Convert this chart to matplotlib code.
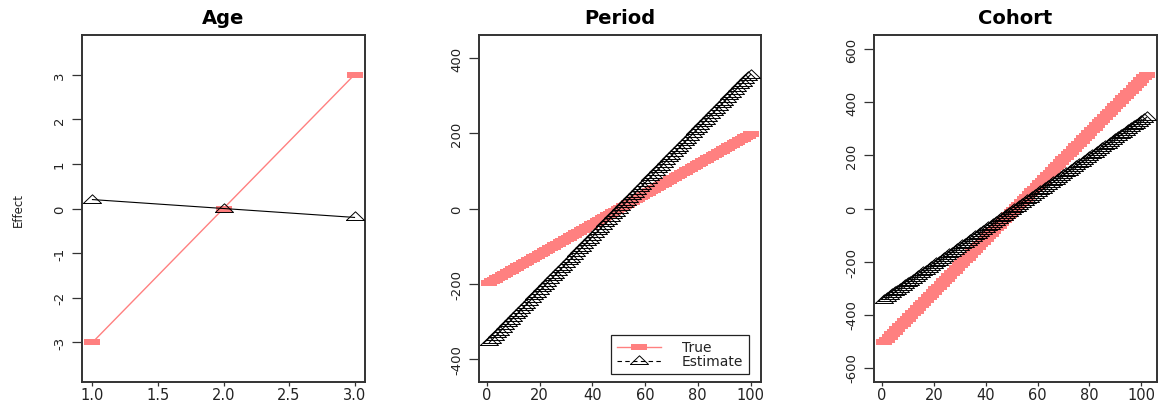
import numpy as np
import matplotlib
matplotlib.use("Agg")
import matplotlib.pyplot as plt
from matplotlib.lines import Line2D

plt.rcParams["font.family"] = ["DejaVu Sans"]
plt.rcParams["axes.unicode_minus"] = False

# ---- data -------------------------------------------------------------
age_true = [-3.0, 0.0, 3.0]
age_est = [0.2, 0.0, -0.2]

period_true = [
    -198, -194, -190, -186, -182, -178, -174, -170, -166, -162,
    -158, -154, -150, -146, -142, -138, -134, -130, -126, -122,
    -118, -114, -110, -106, -102, -98, -94, -90, -86, -82,
    -78, -74, -70, -66, -62, -58, -54, -50, -46, -42,
    -38, -34, -30, -26, -22, -18, -14, -10, -6, -2,
    2, 6, 10, 14, 18, 22, 26, 30, 34, 38,
    42, 46, 50, 54, 58, 62, 66, 70, 74, 78,
    82, 86, 90, 94, 98, 102, 106, 110, 114, 118,
    122, 126, 130, 134, 138, 142, 146, 150, 154, 158,
    162, 166, 170, 174, 178, 182, 186, 190, 194, 198,
]
period_est = [
    -356.4, -349.2, -342.0, -334.8, -327.6, -320.4, -313.2, -306.0, -298.8, -291.6,
    -284.4, -277.2, -270.0, -262.8, -255.6, -248.4, -241.2, -234.0, -226.8, -219.6,
    -212.4, -205.2, -198.0, -190.8, -183.6, -176.4, -169.2, -162.0, -154.8, -147.6,
    -140.4, -133.2, -126.0, -118.8, -111.6, -104.4, -97.2, -90.0, -82.8, -75.6,
    -68.4, -61.2, -54.0, -46.8, -39.6, -32.4, -25.2, -18.0, -10.8, -3.6,
    3.6, 10.8, 18.0, 25.2, 32.4, 39.6, 46.8, 54.0, 61.2, 68.4,
    75.6, 82.8, 90.0, 97.2, 104.4, 111.6, 118.8, 126.0, 133.2, 140.4,
    147.6, 154.8, 162.0, 169.2, 176.4, 183.6, 190.8, 198.0, 205.2, 212.4,
    219.6, 226.8, 234.0, 241.2, 248.4, 255.6, 262.8, 270.0, 277.2, 284.4,
    291.6, 298.8, 306.0, 313.2, 320.4, 327.6, 334.8, 342.0, 349.2, 356.4,
]
cohort_true = [
    -505, -495, -485, -475, -465, -455, -445, -435, -425, -415,
    -405, -395, -385, -375, -365, -355, -345, -335, -325, -315,
    -305, -295, -285, -275, -265, -255, -245, -235, -225, -215,
    -205, -195, -185, -175, -165, -155, -145, -135, -125, -115,
    -105, -95, -85, -75, -65, -55, -45, -35, -25, -15,
    -5, 5, 15, 25, 35, 45, 55, 65, 75, 85,
    95, 105, 115, 125, 135, 145, 155, 165, 175, 185,
    195, 205, 215, 225, 235, 245, 255, 265, 275, 285,
    295, 305, 315, 325, 335, 345, 355, 365, 375, 385,
    395, 405, 415, 425, 435, 445, 455, 465, 475, 485,
    495, 505,
]
cohort_est = [
    -343.4, -336.6, -329.8, -323.0, -316.2, -309.4, -302.6, -295.8, -289.0, -282.2,
    -275.4, -268.6, -261.8, -255.0, -248.2, -241.4, -234.6, -227.8, -221.0, -214.2,
    -207.4, -200.6, -193.8, -187.0, -180.2, -173.4, -166.6, -159.8, -153.0, -146.2,
    -139.4, -132.6, -125.8, -119.0, -112.2, -105.4, -98.6, -91.8, -85.0, -78.2,
    -71.4, -64.6, -57.8, -51.0, -44.2, -37.4, -30.6, -23.8, -17.0, -10.2,
    -3.4, 3.4, 10.2, 17.0, 23.8, 30.6, 37.4, 44.2, 51.0, 57.8,
    64.6, 71.4, 78.2, 85.0, 91.8, 98.6, 105.4, 112.2, 119.0, 125.8,
    132.6, 139.4, 146.2, 153.0, 159.8, 166.6, 173.4, 180.2, 187.0, 193.8,
    200.6, 207.4, 214.2, 221.0, 227.8, 234.6, 241.4, 248.2, 255.0, 261.8,
    268.6, 275.4, 282.2, 289.0, 295.8, 302.6, 309.4, 316.2, 323.0, 329.8,
    336.6, 343.4,
]

panels = [
    dict(title="Age", true=age_true, est=age_est,
         xticks=[1.0, 1.5, 2.0, 2.5, 3.0], xfmt="{:.1f}",
         yticks=[-3, -2, -1, 0, 1, 2, 3]),
    dict(title="Period", true=period_true, est=period_est,
         xticks=[0, 20, 40, 60, 80, 100], xfmt="{:d}",
         yticks=[-400, -200, 0, 200, 400]),
    dict(title="Cohort", true=cohort_true, est=cohort_est,
         xticks=[0, 20, 40, 60, 80, 100], xfmt="{:d}",
         yticks=[-600, -400, -200, 0, 200, 400, 600]),
]

# ---- style ------------------------------------------------------------
RED = "#FF8080"
INK = "#222222"
SPINE = "#333333"
square = [(-1, -0.4), (1, -0.4), (1, 0.4), (-1, 0.4), (-1, -0.4)]
triangle = [(-1, -0.33), (1, -0.33), (0, 0.63), (-1, -0.33)]

W, H = 1162, 406
fig = plt.figure(figsize=(W / 100, H / 100), dpi=100)
lefts = [82, 479, 874]
widths = [283, 282, 283]
top_px, bot_px = 36, 383

for p, left, w in zip(panels, lefts, widths):
    ax = fig.add_axes([left / W, 1 - bot_px / H, w / W, (bot_px - top_px) / H])
    n = len(p["true"])
    x = np.arange(1, n + 1)
    ax.plot(x, p["true"], color=RED, lw=1.0, marker=square, ms=11.5,
            mew=0, mfc=RED, zorder=2)
    ax.plot(x, p["est"], color="black", lw=0.8, marker=triangle, ms=13,
            mew=0.7, mfc="none", mec="black", zorder=3)

    span = n - 1
    ax.set_xlim(1 - 0.04 * span, n + 0.04 * span)
    ylim = 1.2 * max(abs(v) for v in p["true"] + p["est"]) * 1.08
    ax.set_ylim(-ylim, ylim)

    ax.set_xticks(p["xticks"])
    ax.set_xticklabels([p["xfmt"].format(t) for t in p["xticks"]])
    ax.set_yticks(p["yticks"])
    ax.set_yticklabels([str(t) for t in p["yticks"]])
    for lab in ax.get_yticklabels():
        lab.set_rotation(90)
        lab.set_va("center")
        lab.set_ha("right")

    ax.tick_params(axis="x", length=3, width=0.9, color=SPINE, pad=0.5,
                   labelsize=10.5, labelcolor=INK)
    ax.tick_params(axis="y", length=7, width=0.9, color=SPINE, pad=4.5,
                   labelsize=9.5, labelcolor=INK)
    for s in ax.spines.values():
        s.set_color(SPINE)
        s.set_linewidth(1.4)

    ax.set_title(p["title"], fontsize=14, fontweight="bold", pad=9)

    if p["title"] == "Period":
        handles = [
            Line2D([], [], color=RED, lw=1.0, marker=square, ms=11.5,
                   mew=0, mfc=RED),
            Line2D([], [], color="black", lw=0.8, ls=(0, (4, 3)),
                   marker=triangle, ms=13, mew=0.7, mfc="none", mec="black"),
        ]
        leg = ax.legend(handles, ["True", "Estimate"], loc="lower right",
                        bbox_to_anchor=(0.957, 0.023), borderaxespad=0,
                        fontsize=10, handlelength=3.2, handletextpad=1.5,
                        borderpad=0.4, labelspacing=0.0, fancybox=False,
                        framealpha=1, edgecolor=INK)
        leg.get_frame().set_linewidth(0.9)
        for t in leg.get_texts():
            t.set_color(INK)

fig.text(18 / W, 1 - 210 / H, "Effect", rotation=90, ha="center",
         va="center", fontsize=8.5, color=INK)

fig.savefig("out.png", dpi=100)
